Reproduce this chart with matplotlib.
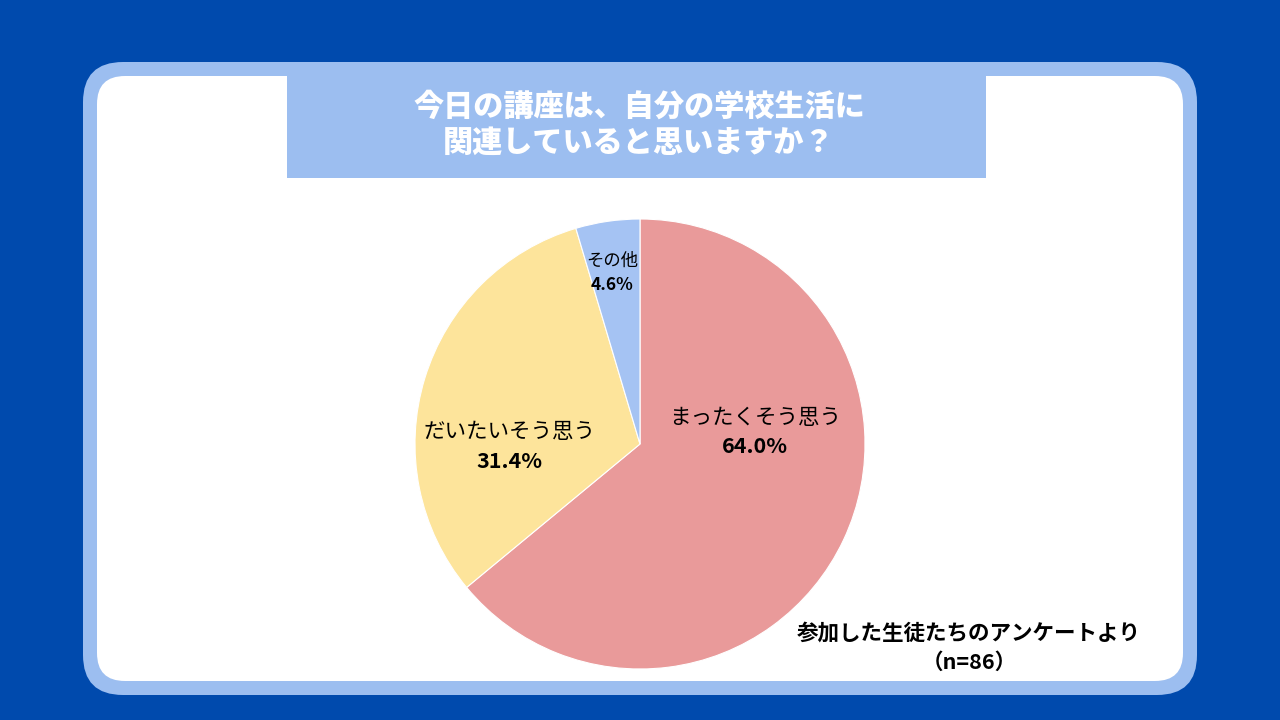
import matplotlib
matplotlib.use("Agg")
import matplotlib.pyplot as plt
from matplotlib.patches import FancyBboxPatch, Rectangle

plt.rcParams['font.family'] = ['Noto Sans CJK JP', 'DejaVu Sans']

categories = ["まったくそう思う", "だいたいそう思う", "その他"]
values = [64.0, 31.4, 4.6]
colors = ["#E99A9A", "#FDE49B", "#A5C3F3"]
title_lines = ["今日の講座は、自分の学校生活に", "関連していると思いますか？"]
note_lines = ["参加した生徒たちのアンケートより", "（n=86）"]

W, H = 1280, 720
fig = plt.figure(figsize=(W / 100, H / 100), dpi=100)
fig.patch.set_facecolor("#004AAD")

bg = fig.add_axes([0, 0, 1, 1])
bg.set_xlim(0, W)
bg.set_ylim(H, 0)
bg.axis("off")

outer = FancyBboxPatch((83 + 40, 62 + 40), 1114 - 80, 633 - 80,
                       boxstyle="round,pad=40", fc="#9CBEF0", ec="none")
inner = FancyBboxPatch((97 + 28, 76 + 28), 1086 - 56, 605 - 56,
                       boxstyle="round,pad=28", fc="white", ec="none")
bg.add_patch(outer)
bg.add_patch(inner)
bg.add_patch(Rectangle((287, 76), 699, 102, fc="#9CBEF0", ec="none"))

bg.text(639, 106, title_lines[0], color="white", fontsize=21.7,
        fontweight="black", ha="center", va="center")
bg.text(639, 142, title_lines[1], color="white", fontsize=21.7,
        fontweight="black", ha="center", va="center")

bg.text(969, 633, note_lines[0], color="black", fontsize=15.5,
        fontweight="bold", ha="center", va="center")
bg.text(969, 662, note_lines[1], color="black", fontsize=15.5,
        fontweight="bold", ha="center", va="center")

# pie
cx, cy, r = 640, 444, 225
ax = fig.add_axes([(cx - r) / W, (H - cy - r) / H, 2 * r / W, 2 * r / H])
ax.pie(values, colors=colors, startangle=90, counterclock=False,
       wedgeprops=dict(edgecolor="white", linewidth=0.8))
ax.set_xlim(-1, 1)
ax.set_ylim(-1, 1)
ax.set_aspect("auto")
ax.axis("off")

label_pos = [(0.51, 0.117, -0.009), (-0.58, 0.053, -0.079), (-0.125, 0.816, 0.705)]
label_sizes = [15.5, 15.5, 12.5]
for cat, val, (lx, ly1, ly2), fs in zip(categories, values, label_pos, label_sizes):
    ax.text(lx, ly1, cat, fontsize=fs, ha="center", va="center", color="black")
    ax.text(lx, ly2, f"{val:.1f}%", fontsize=fs, fontweight="bold",
            ha="center", va="center", color="black")

fig.savefig("out.png", dpi=100, facecolor=fig.get_facecolor())
